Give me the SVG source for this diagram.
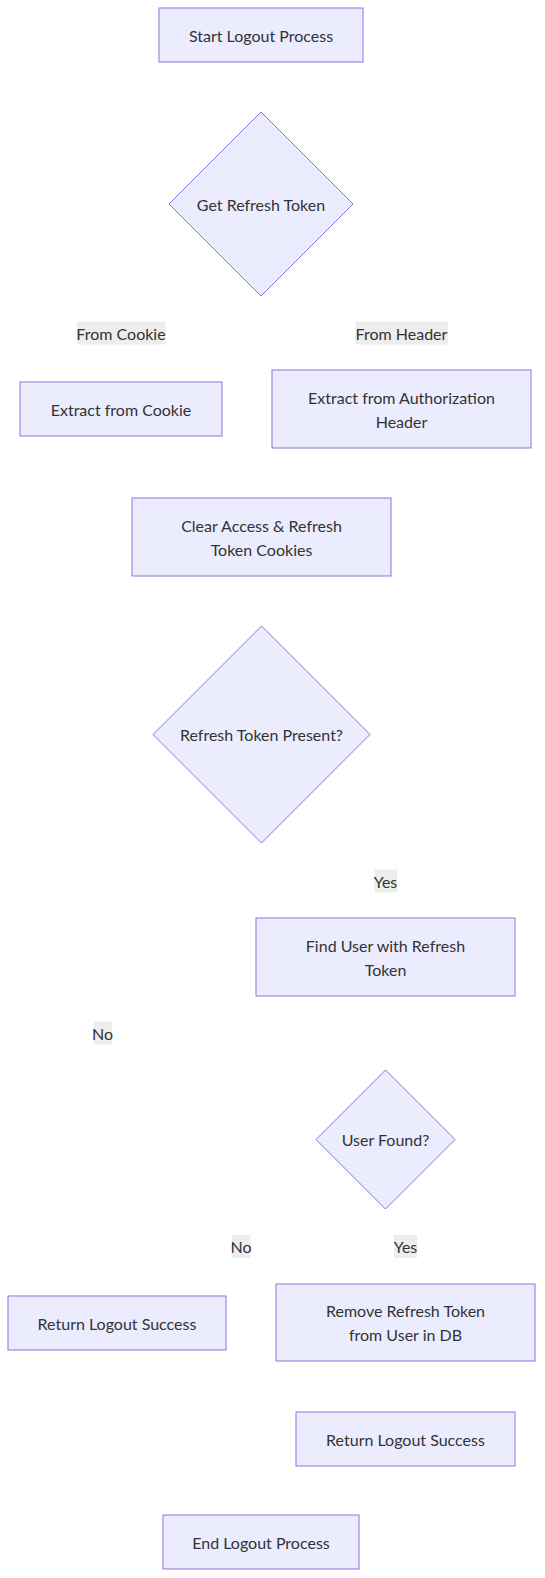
<svg xmlns="http://www.w3.org/2000/svg" width="545" height="1578" viewBox="0 0 545 1578">
<style>
.node rect, .node polygon { fill: #ECECFF; stroke: #9370DB; stroke-width: 1px; }
text { font-family: Lato, "Liberation Sans", sans-serif; font-size: 16px; fill: #333333; text-anchor: middle; dominant-baseline: central; }
.lbl rect { fill: #e8e8e8; opacity: 0.8; stroke: none; }
</style>
<rect width="545" height="1578" fill="#ffffff"/>
<g id="connectors"></g>
<g id="edge-labels">
  <g class="lbl" id="lbl-cookie"><rect x="77" y="321.5" width="88.5" height="23"/><text x="121" y="333">From Cookie</text></g>
  <g class="lbl" id="lbl-header"><rect x="355.5" y="321.5" width="92.5" height="23"/><text x="401.5" y="333">From Header</text></g>
  <g class="lbl" id="lbl-yes1"><rect x="374.5" y="869.5" width="22.5" height="23"/><text x="385.5" y="881">Yes</text></g>
  <g class="lbl" id="lbl-no1"><rect x="93.5" y="1021.5" width="18.5" height="23"/><text x="102.5" y="1033">No</text></g>
  <g class="lbl" id="lbl-no2"><rect x="232" y="1235" width="18.5" height="23"/><text x="241" y="1246.5">No</text></g>
  <g class="lbl" id="lbl-yes2"><rect x="394" y="1235" width="23" height="23"/><text x="405.5" y="1246.5">Yes</text></g>
</g>
<g class="node" id="start"><rect x="159" y="8" width="204" height="54"/><text x="261" y="35">Start Logout Process</text></g>
<g class="node" id="getToken"><polygon points="261,112 353,204 261,296 169,204"/><text x="261" y="204">Get Refresh Token</text></g>
<g class="node" id="fromCookie"><rect x="20" y="382" width="202" height="54"/><text x="121" y="409">Extract from Cookie</text></g>
<g class="node" id="fromHeader"><rect x="272" y="370" width="259" height="78"/><text x="401.5" y="397">Extract from Authorization</text><text x="401.5" y="421">Header</text></g>
<g class="node" id="clearCookies"><rect x="132" y="498" width="259" height="78"/><text x="261.5" y="525">Clear Access &amp; Refresh</text><text x="261.5" y="549">Token Cookies</text></g>
<g class="node" id="tokenPresent"><polygon points="261.5,626 370,734.5 261.5,843 153,734.5"/><text x="261.5" y="734.5">Refresh Token Present?</text></g>
<g class="node" id="findUser"><rect x="256" y="918" width="259" height="78"/><text x="385.5" y="945">Find User with Refresh</text><text x="385.5" y="969">Token</text></g>
<g class="node" id="userFound"><polygon points="385.5,1070 455,1139.5 385.5,1209 316,1139.5"/><text x="385.5" y="1139.5">User Found?</text></g>
<g class="node" id="successLeft"><rect x="8" y="1296" width="218" height="54"/><text x="117" y="1323">Return Logout Success</text></g>
<g class="node" id="removeToken"><rect x="276" y="1284" width="259" height="77"/><text x="405.5" y="1310.5">Remove Refresh Token</text><text x="405.5" y="1334.5">from User in DB</text></g>
<g class="node" id="successRight"><rect x="296" y="1412" width="219" height="54"/><text x="405.5" y="1439">Return Logout Success</text></g>
<g class="node" id="end"><rect x="163" y="1515" width="196" height="54"/><text x="261" y="1542">End Logout Process</text></g>
</svg>
